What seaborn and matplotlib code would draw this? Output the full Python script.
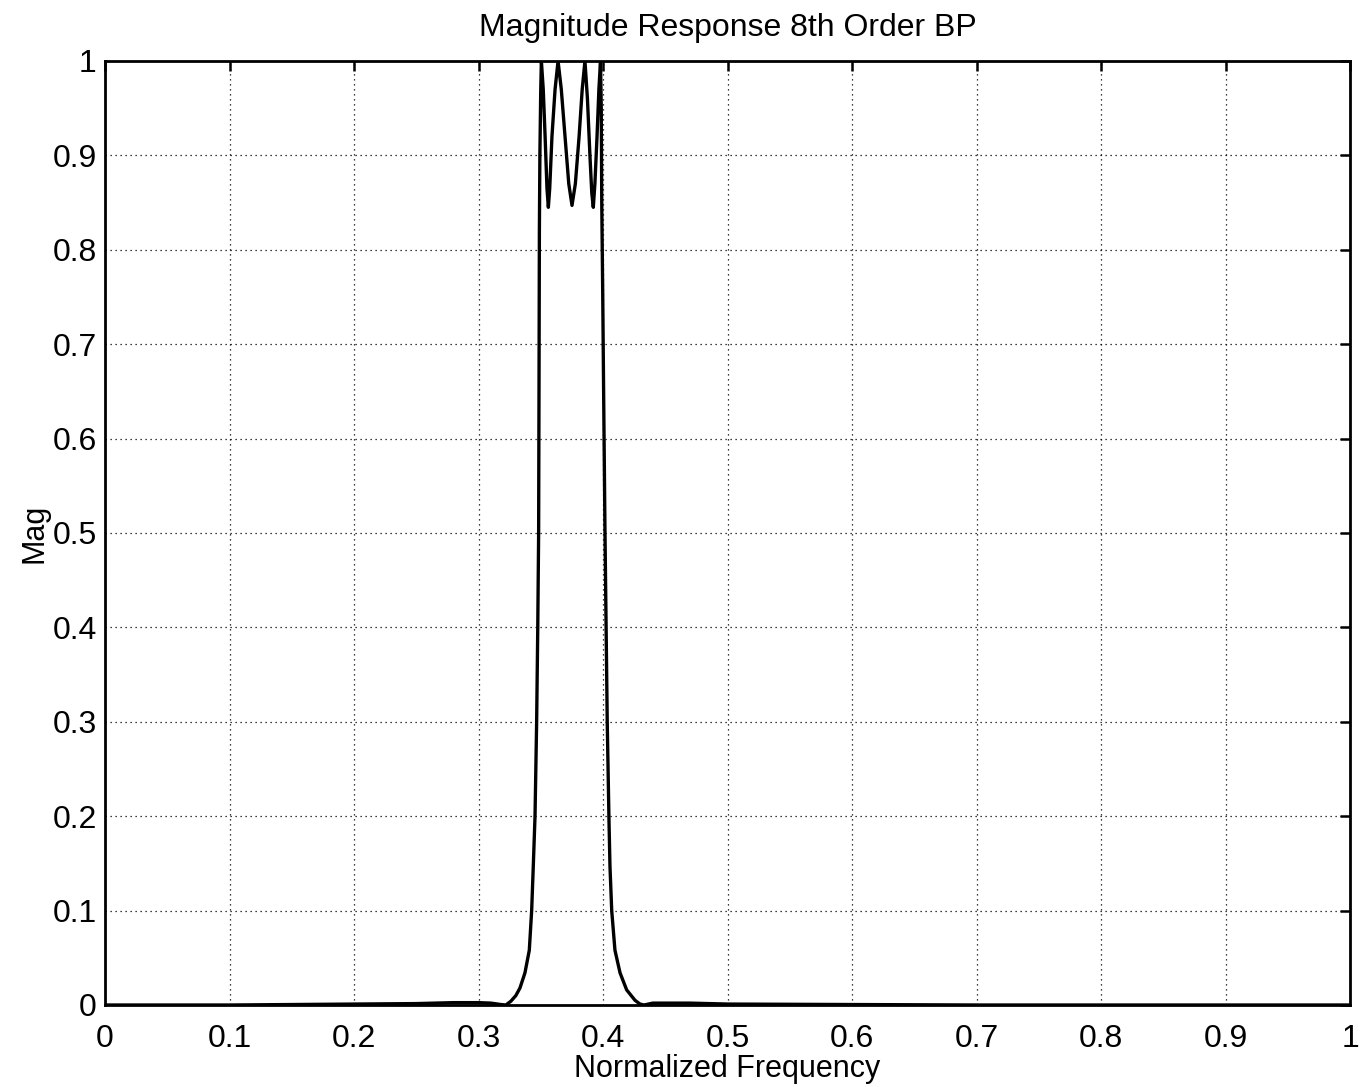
import matplotlib
matplotlib.use("Agg")
import matplotlib.pyplot as plt
import seaborn as sns
import numpy as np
import pandas as pd

# Values
freq = [0.0, 0.05, 0.10, 0.15, 0.20, 0.25, 0.28, 0.30, 0.310, 0.318, 0.322,
        0.326, 0.330, 0.3333, 0.3373, 0.3408, 0.3427, 0.3440, 0.3454, 0.3467,
        0.3476, 0.3483, 0.3486, 0.3489, 0.3493, 0.3500, 0.3505,
        0.3520, 0.3535, 0.3550, 0.3561, 0.3572, 0.3590, 0.3615, 0.3639,
        0.3665, 0.3695, 0.3725, 0.3751, 0.3778, 0.3808, 0.3833, 0.3855,
        0.3875, 0.3895, 0.3910, 0.3922, 0.3935, 0.3952, 0.3967, 0.3980,
        0.3986, 0.3990, 0.3998, 0.4005, 0.4016, 0.4025, 0.4034, 0.4048,
        0.4056, 0.4070, 0.4096, 0.4137, 0.4190, 0.4257, 0.4297, 0.433,
        0.44, 0.47, 0.50, 0.60, 0.70, 0.80, 0.90, 1.0]
mag = [0.0, 0.0, 0.0, 0.0005, 0.001, 0.0015, 0.0025, 0.0025, 0.002, 0.0005, 0.0,
       0.004, 0.010, 0.018, 0.034, 0.058, 0.100, 0.147, 0.200, 0.300,
       0.400, 0.500, 0.650, 0.820, 0.900, 0.970, 1.0,
       0.97, 0.92, 0.865, 0.845, 0.865, 0.92, 0.97, 1.0,
       0.97, 0.92, 0.87, 0.847, 0.87, 0.92, 0.97, 1.0,
       0.96, 0.90, 0.86, 0.845, 0.87, 0.92, 0.97, 1.0,
       0.95, 0.85, 0.75, 0.65, 0.50, 0.40, 0.30, 0.196,
       0.147, 0.100, 0.058, 0.034, 0.016, 0.005, 0.001, 0.0,
       0.002, 0.002, 0.001, 0.0005, 0.0, 0.0, 0.0, 0.0]

xticks = [0, 0.1, 0.2, 0.3, 0.4, 0.5, 0.6, 0.7, 0.8, 0.9, 1]
xtick_labels = ["0", "0.1", "0.2", "0.3", "0.4", "0.5", "0.6", "0.7", "0.8", "0.9", "1"]
yticks = [0, 0.1, 0.2, 0.3, 0.4, 0.5, 0.6, 0.7, 0.8, 0.9, 1]
ytick_labels = ["0", "0.1", "0.2", "0.3", "0.4", "0.5", "0.6", "0.7", "0.8", "0.9", "1"]

title = "Magnitude Response 8th Order BP"
xlabel = "Normalized Frequency"
ylabel = "Mag"

sns.set_style("white")
plt.rcParams['font.family'] = ['Liberation Sans', 'DejaVu Sans']
plt.rcParams['text.color'] = 'black'
plt.rcParams['axes.labelcolor'] = 'black'

df = pd.DataFrame({"freq": freq, "mag": mag})

fig = plt.figure(figsize=(13.66, 10.87), dpi=100)
ax = fig.add_axes([105 / 1366, 1 - 1005 / 1087, (1350 - 105) / 1366, (1005 - 61) / 1087])

sns.lineplot(data=df, x="freq", y="mag", ax=ax, color="black", linewidth=2.4,
             sort=False, estimator=None)

ax.set_xlim(0, 1)
ax.set_ylim(0, 1)
ax.set_xticks(xticks)
ax.set_xticklabels(xtick_labels)
ax.set_yticks(yticks)
ax.set_yticklabels(ytick_labels)

ax.grid(True, color="black", linestyle=(0, (1, 3)), linewidth=0.9)
for s in ax.spines.values():
    s.set_visible(True)
    s.set_color("black")
    s.set_linewidth(2)

ax.tick_params(axis="both", direction="in", length=7, width=1.8, colors="black",
               top=True, right=True, labelsize=23)
ax.tick_params(axis="x", pad=14)
ax.tick_params(axis="y", pad=6)

ax.set_title(title, fontsize=23, pad=18, color="black")
ax.set_xlabel(xlabel, fontsize=22, labelpad=0, color="black")
ax.set_ylabel(ylabel, fontsize=22, labelpad=2, color="black")

fig.savefig("out.png", dpi=100, facecolor="white")
